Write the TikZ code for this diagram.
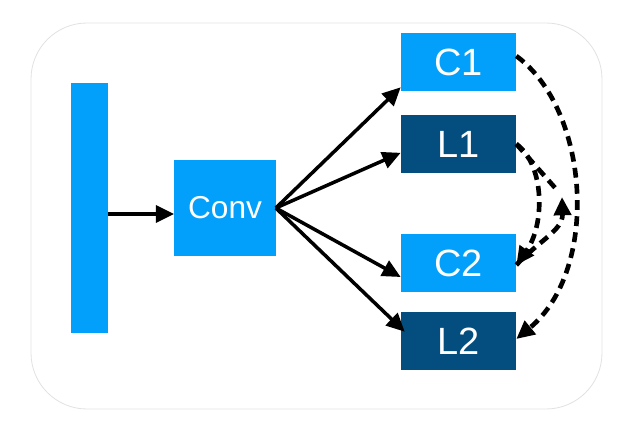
\documentclass[tikz,border=0pt]{standalone}
\usepackage{fontspec}
\setmainfont{Liberation Sans}
\usetikzlibrary{arrows.meta,positioning}
\definecolor{lightblue}{RGB}{2,160,250}
\definecolor{darkblue}{RGB}{3,78,126}
\definecolor{framegray}{RGB}{226,226,228}
\tikzset{lightbox/.style={fill=lightblue,text=white,inner sep=0,minimum width=2.875cm,minimum height=1.45cm,font=\fontsize{27}{30}\selectfont},
    darkbox/.style={lightbox,fill=darkblue},
    arr/.style={-{Triangle[length=13pt,width=12pt]},line width=2.5pt},
    dasharr/.style={-{Triangle[length=13pt,width=12pt]},line width=3.3pt,dash pattern=on 7pt off 4.5pt},
    dashline/.style={line width=3.3pt,dash pattern=on 7pt off 4.5pt}
}
\begin{document}
\begin{tikzpicture}[x=0.025cm,y=-0.025cm]
\useasboundingbox (0,0) rectangle (640,427);

% frame
\draw [framegray,line width=0.6pt,rounded corners=1.4cm] (31,23) rectangle (602,409);

\node (bar) [fill=lightblue,inner sep=0,minimum width=0.925cm,minimum height=6.225cm] at (89.5,208) {};
\node (conv) [lightbox,minimum width=2.525cm,minimum height=2.375cm,font=\fontsize{22.5}{26}\selectfont] at (225,208) {Conv};

\node (c1) [lightbox] at (458.5,62) {C1};
\node (l1) [darkbox] at (458.5,144) {L1};
\node (c2) [lightbox] at (458.5,263) {C2};
\node (l2) [darkbox] at (458.5,341) {L2};

\draw [arr] ([yshift=-0.15cm]bar.east) -- ([yshift=-0.15cm]conv.west);

\draw [arr] (conv.east) -- ([yshift=0.1cm]c1.south west);
\draw [arr] (conv.east) -- ([yshift=-0.22cm]l1.west);
\draw [arr] (conv.east) -- ([yshift=-0.35cm]c2.west);
\draw [arr] (conv.east) -- ([xshift=0.1cm,yshift=-0.5cm]l2.north west);

% dashed links
\coordinate (turn) at (562,197);
\draw [dasharr] ([yshift=0.15cm]c1.east) .. controls (590,110) and (600,270) .. ([yshift=0.05cm]l2.east);
\draw [dasharr] (l1.east) .. controls (545,165) and (545,225) .. ([yshift=-0.05cm]c2.east);
\draw [dashline] (l1.east) -- (557,190);
\draw [dasharr] ([yshift=-0.05cm]c2.east) .. controls (540,240) and (563,230) .. (turn);

\end{tikzpicture}
\end{document}
